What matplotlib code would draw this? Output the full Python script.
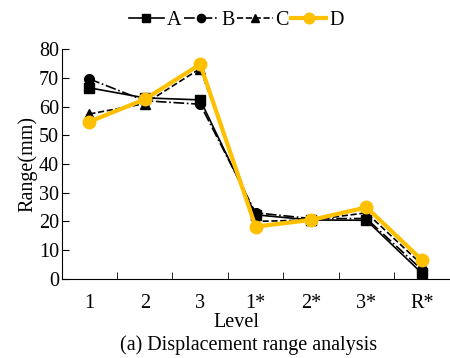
import matplotlib
matplotlib.use("Agg")
import matplotlib.pyplot as plt

levels = ["1", "2", "3", "1*", "2*", "3*", "R*"]
series_A = [66.5, 63.0, 62.3, 22.3, 20.5, 20.4, 2.0]
series_B = [69.6, 62.0, 60.8, 23.0, 21.0, 21.0, 3.2]
series_C = [57.4, 61.0, 73.2, 20.0, 20.5, 23.0, 5.0]
series_D = [54.7, 62.5, 74.7, 18.2, 20.5, 24.9, 6.6]
yticks = [0, 10, 20, 30, 40, 50, 60, 70, 80]

plt.rcParams['font.family'] = ['Liberation Serif', 'DejaVu Serif']
plt.rcParams['font.size'] = 14.5

fig = plt.figure(figsize=(4.5, 3.58), dpi=100)
ax = fig.add_axes([0.137, 0.221, 0.862, 0.642])

x = list(range(len(levels)))
ax.plot(x, series_A, color='black', lw=1.2, ls='-', marker='s', ms=7, label='A')
ax.plot(x, series_B, color='black', lw=1.2, ls='-.', marker='o', ms=7, label='B')
ax.plot(x, series_C, color='black', lw=1.2, ls='--', marker='^', ms=7, label='C')
ax.plot(x, series_D, color='#FFC000', lw=3, ls='-', marker='o', ms=9, label='D')

ax.set_xlim(-0.5, len(levels) - 0.5)
ax.set_ylim(0, 80)
ax.set_yticks(yticks)
ax.set_xticks(x)
ax.set_xticklabels(levels)
ax.set_xticks([i + 0.5 for i in x[:-1]], minor=True)
ax.tick_params(axis='x', which='major', length=0, pad=11)
ax.tick_params(axis='x', which='minor', direction='in', length=5)
ax.tick_params(axis='y', direction='in', length=5, pad=2)
ax.spines['top'].set_visible(False)
ax.spines['right'].set_visible(False)
ax.set_ylabel('Range(mm)', labelpad=1)
ax.set_xlabel('Level')
ax.xaxis.set_label_coords(0.45, -0.15)

fig.legend(loc='upper center', bbox_to_anchor=(0.525, 1.02), ncol=4, frameon=False,
           handlelength=1.75, handletextpad=0.15, columnspacing=0.1, markerscale=0.85)
fig.text(0.553, 0.007, '(a) Displacement range analysis', ha='center', va='bottom')

fig.savefig('out.png', dpi=100)
